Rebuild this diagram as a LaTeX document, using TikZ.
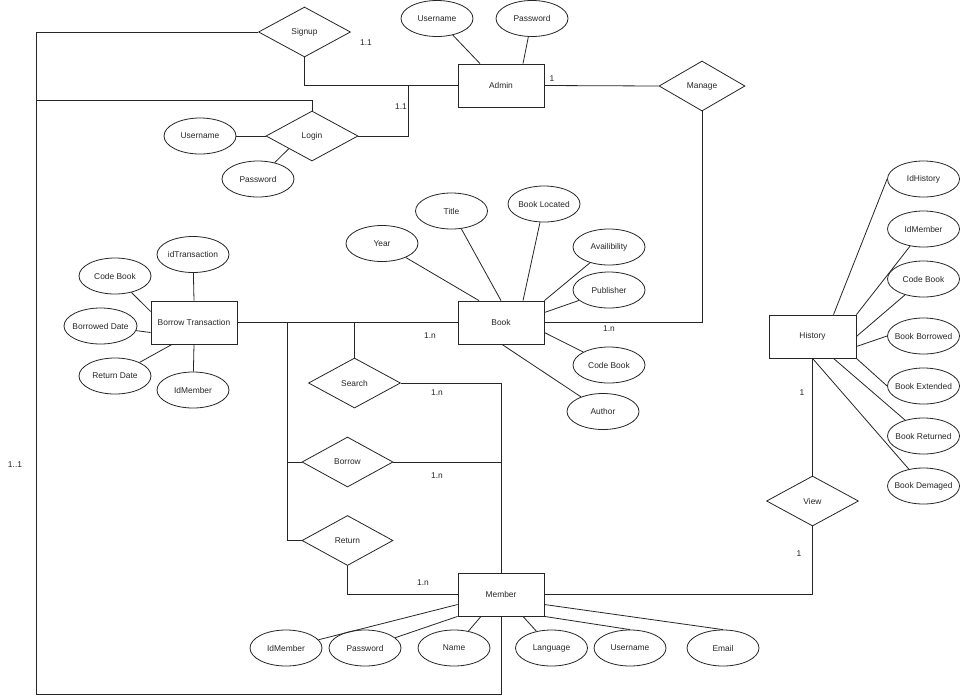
\documentclass[tikz,border=0pt]{standalone}
\usepackage{fontspec}
\setmainfont{Liberation Sans}
\usetikzlibrary{shapes.geometric,calc}
\begin{document}
\begin{tikzpicture}[x=1pt,y=-1pt,
  every node/.style={font=\fontsize{8.4}{10}\selectfont, text=black!85},
  ln/.style={draw=black!85, line width=0.8pt},
  ent/.style={ln, rectangle, minimum width=86pt, minimum height=43pt, inner sep=0pt, fill=white},
  rel/.style={ln, diamond, minimum width=92pt, minimum height=50pt, inner sep=0pt, fill=white},
  attr/.style={ln, ellipse, minimum width=72pt, minimum height=36pt, inner sep=0pt, fill=white},
  lbl/.style={inner sep=0pt}]
\useasboundingbox (0,0) rectangle (960,697);
\fill[white] (0,0) rectangle (960,697);

% entities
\node[ent] (admin) at (501,85.5) {Admin};
\node[ent] (book) at (501,322.5) {Book};
\node[ent] (bt) at (194,322.5) {Borrow Transaction};
\node[ent] (member) at (501,594.5) {Member};
\node[ent, minimum width=87pt] (history) at (812.5,336.5) {History};

% relationships
\node[rel] (signup) at (304.5,32) {\makebox[0pt]{Signup}};
\node[rel] (login) at (312,136) {\makebox[0pt]{Login}};
\node[rel, minimum width=86pt] (manage) at (702,86) {\makebox[0pt]{Manage}};
\node[rel] (search) at (354.5,383) {\makebox[0pt]{Search}};
\node[rel, minimum width=91pt] (borrow) at (347.5,462) {\makebox[0pt]{Borrow}};
\node[rel, minimum width=91pt] (return) at (347.5,540.5) {\makebox[0pt]{Return}};
\node[rel] (view) at (812.5,501) {\makebox[0pt]{View}};

% attributes
\node[attr] (aU) at (437,18.5) {\makebox[0pt]{Username}};
\node[attr] (aP) at (532,18.5) {\makebox[0pt]{Password}};
\node[attr] (lU) at (200,136) {\makebox[0pt]{Username}};
\node[attr] (lP) at (258,179) {\makebox[0pt]{Password}};
\node[attr] (year) at (382,243.5) {\makebox[0pt]{Year}};
\node[attr] (title) at (451.5,211) {\makebox[0pt]{Title}};
\node[attr] (located) at (544,204) {\makebox[0pt]{Book Located}};
\node[attr] (avail) at (609,247) {\makebox[0pt]{Availibility}};
\node[attr] (publisher) at (609,290) {\makebox[0pt]{Publisher}};
\node[attr] (bcode) at (609,365) {\makebox[0pt]{Code Book}};
\node[attr] (author) at (603,411.5) {\makebox[0pt]{Author}};
\node[attr] (idtr) at (193,254.5) {\makebox[0pt]{idTransaction}};
\node[attr] (tcode) at (115,276) {\makebox[0pt]{Code Book}};
\node[attr, minimum width=73pt] (bdate) at (100.5,326) {\makebox[0pt]{Borrowed Date}};
\node[attr] (rdate) at (115,376) {\makebox[0pt]{Return Date}};
\node[attr] (tidm) at (193,390) {\makebox[0pt]{IdMember}};
\node[attr] (idh) at (923.5,179) {\makebox[0pt]{IdHistory}};
\node[attr] (hidm) at (923.5,229) {\makebox[0pt]{IdMember}};
\node[attr] (hcode) at (923.5,279) {\makebox[0pt]{Code Book}};
\node[attr] (hborrow) at (923.5,336) {\makebox[0pt]{Book Borrowed}};
\node[attr] (hext) at (923.5,386) {\makebox[0pt]{Book Extended}};
\node[attr] (hret) at (923.5,436) {\makebox[0pt]{Book Returned}};
\node[attr] (hdem) at (923.5,486) {\makebox[0pt]{Book Demaged}};
\node[attr] (midm) at (286,648) {\makebox[0pt]{IdMember}};
\node[attr] (mpw) at (365,648) {\makebox[0pt]{Password}};
\node[attr] (mname) at (454,648) {\makebox[0pt]{Name}};
\node[attr] (mlang) at (551.5,648) {\makebox[0pt]{Language}};
\node[attr] (muser) at (630,648) {\makebox[0pt]{Username}};
\node[attr] (memail) at (723,648) {\makebox[0pt]{Email}};

% helper coordinates
\coordinate (c1) at (36,32);
\coordinate (c2) at (36,694);
\coordinate (c3) at (501,694);
\coordinate (c5) at (36,100);
\coordinate (c6) at (408,86);
\coordinate (j1) at (287,322.5);
\coordinate (j2) at (354.5,322.5);

% connectors
\draw[ln] (signup.west) -- (c1) -- (c2) -- (c3) -- (member.south);
\draw[ln] (login.north) |- (c5);
\draw[ln] (signup.south) |- (admin.west);
\draw[ln] (login.east) -| (c6);
\draw[ln] (admin.east) -- (manage.west);
\draw[ln] (manage.south) |- (book.east);
\draw[ln] (bt.east) -- (book.west);
\draw[ln] (j1) |- (return.west);
\draw[ln] (j1 |- borrow.west) -- (borrow.west);
\draw[ln] (j2) -- (search.north);
\draw[ln] (search.east) -| (member.north);
\draw[ln] (borrow.east) -- (member.north |- borrow.east);
\draw[ln] (return.south) |- (member.west);
\draw[ln] (member.east) -| (view.south);
\draw[ln] (view.north) -- (history.south);

% attribute lines
\draw[ln] (aU) -- ([xshift=-21pt]admin.north);
\draw[ln] (aP) -- ([xshift=22pt]admin.north);
\draw[ln] (lU) -- (login.west);
\draw[ln] (lP) -- (login.south west);
\draw[ln] (year) -- ([xshift=-22pt]book.north);
\draw[ln] (title) -- (book.north);
\draw[ln] (located) -- ([xshift=22pt]book.north);
\draw[ln] (avail) -- (book.north east);
\draw[ln] (publisher) -- ([yshift=10pt]book.east);
\draw[ln] (bcode) -- ([yshift=-10pt]book.east);
\draw[ln] (author) -- ([xshift=1pt]book.south);
\draw[ln] (idtr) -- (bt.north);
\draw[ln] (tidm) -- (bt.south);
\draw[ln] (tcode) -- ([yshift=11pt]bt.west);
\draw[ln] (bdate) -- ([yshift=-10pt]bt.west);
\draw[ln] (rdate) -- ([xshift=-22pt]bt.south);
\draw[ln] (idh.west) -- ([xshift=21pt]history.north);
\draw[ln] (hidm) -- (history.north east);
\draw[ln] (hcode) -- (history.east);
\draw[ln] (hborrow.west) -- ([yshift=-10pt]history.east);
\draw[ln] (hext.west) -- (history.south east);
\draw[ln] (hret) -- ([xshift=21pt]history.south);
\draw[ln] (hdem) -- (history.south);
\draw[ln] (midm) -- ([yshift=-10pt]member.west);
\draw[ln] (mpw) -- (member.south west);
\draw[ln] (mname) -- ([xshift=-20pt]member.south);
\draw[ln] (mlang) -- ([xshift=22pt]member.south);
\draw[ln] (muser.north) -- (member.south east);
\draw[ln] (memail.north) -- ([yshift=-10pt]member.east);

% cardinality labels
\node[lbl] (k1) at (366,43) {1.1};
\node[lbl] (k2) at (401,107) {1.1};
\node[lbl] (k3) at (552,79) {1};
\node[lbl] (k4) at (609,329) {1.n};
\node[lbl] (k5) at (430,336) {1.n};
\node[lbl] (k6) at (437,393) {1.n};
\node[lbl] (k7) at (437,476) {1.n};
\node[lbl] (k8) at (423,583) {1.n};
\node[lbl] (k9) at (799,554) {1};
\node[lbl] (k10) at (802,393) {1};
\node[lbl] (k11) at (15,465) {1..1};
\end{tikzpicture}
\end{document}
